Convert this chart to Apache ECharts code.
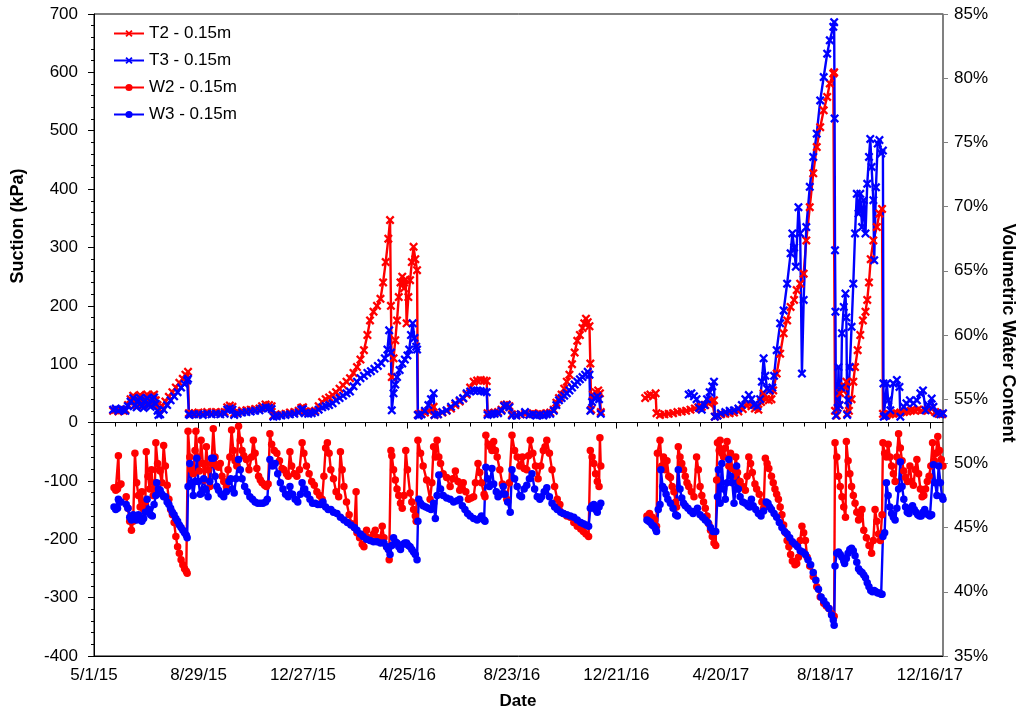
<!DOCTYPE html>
<html>
<head>
<meta charset="utf-8">
<script src="https://cdn.jsdelivr.net/npm/echarts/dist/echarts.min.js"></script>
<style>
  html, body { margin: 0; padding: 0; background: #ffffff; }
  #chart { width: 1021px; height: 715px; }
</style>
</head>
<body>
<div id="chart"></div>
<script>
// Days are counted from 5/1/15. Each series is a list of continuous segments of [day, value].
const START_YEAR = 2015, START_MONTH = 4, START_DAY = 1;
const X_MAX = 975;                       // 12/31/17
const X_MAJOR = [0, 120, 240, 360, 480, 600, 720, 840, 960];
const X_MINOR = [24, 48, 72, 96, 144, 168, 192, 216, 264, 288, 312, 336, 384, 408, 432, 456,
                 504, 528, 552, 576, 624, 648, 672, 696, 744, 768, 792, 816, 864, 888, 912, 936];

// Suction, T2 (kPa)
const t2 = [
  [[22,20],[25,22],[28,19],[31,21],[34,20]],
  [[36,22],[39,30],[42,40],[45,46],[47,36],[49,30],[51,44],[53,47],[55,34],[57,30],[59,45],[61,48],[63,35],[65,32],[67,46],[69,48],[71,38],[73,30],[75,22],[78,28],[82,36],[86,44],[90,52],[94,60],[98,68],[102,75],[105,82],[108,87],[109,16],[112,15],[116,16],[120,17],[125,16],[130,18],[135,17],[140,18],[145,17],[150,18],[153,26],[156,29],[159,27],[161,16],[165,18],[170,20],[175,21],[180,22],[185,23],[190,24],[193,28],[197,31],[201,30],[204,28],[206,12],[210,13],[215,14],[220,15],[225,17],[230,18],[235,20],[238,25],[240,26],[242,19],[246,18],[250,19],[254,20],[258,28],[262,35],[266,40],[270,43],[274,47],[278,52],[282,58],[286,64],[290,70],[294,76],[298,85],[302,95],[306,108],[310,124],[314,150],[317,175],[321,190],[325,200],[329,212],[332,240],[335,275],[338,315],[340,347],[341,200],[342,78],[344,110],[346,141],[348,175],[350,215],[352,240],[354,250],[356,230],[358,245],[359,170],[361,215],[363,244],[365,275],[367,301],[369,280],[371,261],[372,13],[373,14],[376,15],[380,17],[384,20],[388,24],[390,27],[391,13],[395,14],[400,17],[405,20],[410,24],[415,30],[420,36],[424,41],[428,48],[432,60],[436,70],[440,72],[444,73],[448,72],[451,71],[452,16],[456,15],[460,17],[464,18],[468,22],[471,30],[474,31],[477,28],[480,14],[485,13],[490,14],[495,15],[500,14],[504,16],[508,14],[512,15],[516,14],[520,16],[524,17],[528,22],[531,34],[534,42],[537,48],[540,58],[543,70],[546,82],[549,100],[552,120],[555,140],[558,150],[561,162],[563,170],[565,178],[567,172],[569,165],[570,101],[571,22],[573,48],[576,52],[579,55],[581,50],[582,18]],
  [[633,42],[636,46],[639,48],[642,45],[645,50],[646,16],[650,13],[655,14],[660,15],[665,16],[670,18],[675,19],[680,20],[685,22],[690,24],[694,26],[698,27],[702,30],[706,33],[710,36],[712,38],[713,10],[716,12],[720,14],[725,15],[730,16],[735,17],[740,19],[745,23],[749,30],[752,32],[755,28],[759,24],[763,22],[766,35],[769,50],[772,40],[775,38],[778,40],[780,55],[784,84],[788,118],[792,153],[796,175],[800,198],[804,210],[807,227],[811,238],[815,255],[818,312],[822,369],[826,427],[830,472],[834,506],[838,535],[842,558],[845,581],[849,598],[850,600],[851,20],[853,12],[856,30],[857,50],[860,55],[862,62],[864,70],[865,15],[867,20],[870,40],[872,70],[874,95],[877,124],[880,150],[883,175],[886,190],[888,210],[890,240],[892,280],[895,312],[899,335],[902,358],[905,366],[906,15],[910,12],[914,14],[918,15],[922,16],[926,17],[930,18],[934,19],[938,20],[942,21],[946,22],[950,20],[954,22],[958,21],[962,24],[966,18],[970,15],[974,14]]
];

// Suction, T3 (kPa)
const t3 = [
  [[22,22],[25,24],[28,20],[31,23],[34,22]],
  [[36,20],[39,28],[42,36],[45,42],[47,30],[49,26],[51,38],[53,42],[55,28],[57,25],[59,38],[61,42],[63,30],[65,27],[67,40],[69,43],[71,32],[73,20],[74,13],[76,14],[80,22],[84,30],[88,38],[92,45],[96,52],[100,60],[104,66],[107,72],[108,75],[109,14],[110,13],[115,14],[120,14],[125,13],[130,15],[135,14],[140,15],[145,14],[150,15],[153,22],[156,24],[159,22],[161,13],[165,15],[170,17],[175,18],[180,19],[185,20],[190,21],[193,24],[197,26],[201,25],[204,23],[206,10],[210,11],[215,12],[220,13],[225,14],[230,15],[235,17],[238,22],[240,23],[242,16],[246,15],[250,16],[254,18],[258,22],[262,26],[266,28],[270,30],[274,33],[278,38],[282,42],[286,46],[290,50],[294,53],[298,62],[302,70],[306,76],[310,80],[314,85],[318,88],[322,92],[326,97],[330,102],[334,110],[337,125],[339,158],[341,120],[342,21],[344,50],[346,65],[348,78],[351,90],[354,101],[357,108],[360,115],[362,125],[364,150],[366,170],[368,145],[370,130],[371,125],[372,13],[373,12],[376,14],[380,20],[384,30],[387,40],[390,50],[391,13],[395,14],[400,18],[405,21],[410,27],[415,33],[420,38],[424,42],[428,50],[432,53],[436,55],[440,55],[444,54],[448,53],[451,52],[452,13],[456,14],[460,15],[464,16],[468,20],[471,28],[474,30],[477,26],[480,12],[485,12],[490,14],[495,18],[500,13],[504,14],[508,12],[512,13],[516,12],[520,14],[524,15],[528,20],[531,30],[534,38],[537,42],[540,46],[543,50],[546,55],[549,60],[552,65],[555,70],[558,74],[561,78],[564,82],[567,87],[569,82],[570,20],[572,35],[575,42],[578,45],[580,40],[582,15]],
  [[683,48],[686,50],[689,45],[692,40],[695,25],[698,22],[701,30],[704,40],[707,52],[710,62],[712,70],[713,10],[716,12],[720,16],[725,18],[730,20],[735,21],[740,24],[744,30],[748,40],[752,47],[755,40],[758,30],[762,28],[765,40],[767,70],[769,110],[771,80],[773,58],[776,55],[779,60],[781,80],[784,124],[788,170],[792,192],[796,238],[800,290],[802,324],[804,300],[806,267],[809,369],[811,324],[813,84],[815,210],[818,335],[822,404],[826,455],[830,495],[834,552],[838,592],[842,632],[845,655],[849,678],[850,686],[850.5,521],[851,295],[851.5,190],[852,12],[854,25],[855,95],[856,30],[858,60],[859,153],[861,198],[863,221],[864,180],[865,13],[866,38],[868,95],[870,164],[872,238],[874,324],[876,392],[878,358],[880,392],[882,335],[884,381],[886,324],[888,409],[890,455],[891.5,486],[893,438],[895,381],[896,278],[898,403],[900,478],[902,484],[904,461],[906,466],[906.6,67],[907,10],[909,12],[910.5,67],[912,38],[914.5,21],[918,67],[922,73],[925,61],[926,10],[930,27],[933,33],[937,38],[941,33],[945,38],[949,50],[952,55],[955,21],[958,30],[962,41],[964,27],[968,16],[972,14],[975,16]]
];

// Volumetric water content, W2 (%)
const w2 = [
  [[23,48.1],[25,47.9],[27,48.0],[28,50.6],[29,48.3],[31,48.4]],
  [[37,47.4],[39,46.5],[41,45.5],[43,44.8],[45,45.5],[47,50.8],[49,48.5],[51,47.5],[53,46.6],[55,47.8],[57,46.4],[59,47.0],[60,50.9],[62,49.0],[64,48.0],[66,49.5],[68,47.5],[70,48.5],[71,51.6],[73,50.0],[75,49.5],[76,49.4],[78,48.5],[80,51.4],[82,49.8],[84,48.3],[86,47.2],[88,46.4],[90,46.0],[92,45.4],[94,44.3],[96,43.5],[98,43.0],[100,42.5],[102,42.1],[104,41.8],[106,41.6],[107,41.45],[108,52.5],[110,50.5],[112,49.5],[114,49.2],[116,51.0],[117,52.5],[119,50.5],[121,49.4],[123,51.8],[125,50.0],[127,48.7],[129,51.3],[131,49.5],[133,48.2],[135,50.0],[137,52.7],[139,50.5],[141,49.8],[143,49.7],[145,50.0],[147,49.0],[149,48.6],[152,48.2],[154,49.5],[156,50.5],[158,52.6],[160,51.0],[162,50.2],[164,49.8],[166,52.9],[168,51.8],[170,51.0],[172,50.6],[175,50.3],[178,49.5],[181,50.5],[183,51.8],[185,50.8],[187,49.6],[189,49.0],[191,48.7],[193,48.5],[196,48.3],[198,48.2],[200,48.4],[202,52.3],[204,51.5],[207,51.0],[210,50.8],[213,50.2],[216,49.6],[218,49.5],[221,49.2],[223,49.0],[225,50.9],[227,49.8],[230,49.2],[233,49.0],[236,49.5],[239,51.6],[241,50.8],[244,49.8],[247,49.2],[250,48.6],[253,48.3],[256,47.8],[259,47.5],[262,47.2],[264,49.0],[266,51.2],[268,51.6],[270,50.8],[272,49.5],[275,48.8],[278,47.8],[281,47.4],[283,50.9],[285,49.5],[287,48.2],[290,47.0],[293,46.0],[296,45.3],[299,45.0],[301,47.8],[302,44.6],[305,44.2],[308,43.7],[310,43.5],[313,44.8],[315,44.2],[318,44.0],[321,44.5],[323,44.8],[326,44.2],[328,43.9],[331,45.1],[333,44.2],[336,43.5],[339,42.5],[341,51.0],[342,50.6],[344,49.5],[346,48.7],[348,48.0],[350,47.5],[352,46.9],[354,46.5],[356,47.5],[358,51.0],[360,49.5],[363,47.7],[365,47.0],[367,46.4],[369,45.9],[370,45.5],[372,51.8],[375,50.8],[378,49.8],[382,48.7],[386,47.2],[388,48.5],[390,51.3],[392,50.5],[394,51.8],[396,50.5],[398,50.0],[401,49.2],[405,48.9],[409,48.2],[412,48.8],[415,49.4],[418,48.6],[420,47.9],[422,48.2],[424,48.5],[427,47.8],[430,47.2],[433,47.3],[436,47.4],[438,48.5],[441,50.0],[443,49.3],[445,48.5],[448,47.6],[449,47.4],[450,52.2],[453,51.5],[455,51.3],[457,51.0],[459,51.7],[461,51.0],[463,50.5],[466,49.5],[469,48.4],[472,47.6],[474,47.2],[477,48.5],[480,52.2],[483,51.0],[486,50.5],[489,49.8],[492,50.5],[494,49.6],[497,49.5],[499,50.6],[501,51.8],[504,50.8],[507,49.8],[510,48.8],[513,49.8],[516,51.0],[518,51.3],[520,51.8],[523,50.8],[526,49.5],[529,48.2],[532,47.2],[535,46.8],[539,46.1],[543,45.9],[547,45.8],[551,45.4],[555,45.1],[559,44.9],[562,44.7],[565,44.5],[568,44.3],[570,51.0],[572,50.5],[574,50.0],[576,49.2],[578,48.6],[580,48.2],[581,52.0],[582,49.8]],
  [[635,45.9],[638,46.1],[641,45.8],[644,45.6],[646,45.1],[647,50.8],[650,51.8],[652,49.8],[654,50.5],[656,49.5],[658,50.2],[660,49.0],[662,48.9],[664,48.2],[666,47.8],[668,47.0],[669,46.6],[671,51.3],[673,50.5],[675,50.0],[677,49.5],[679,49.0],[681,48.5],[683,48.2],[686,47.8],[689,47.4],[692,50.5],[694,49.5],[696,48.2],[698,47.5],[700,47.0],[702,46.5],[704,45.9],[706,45.3],[708,44.8],[710,44.3],[712,43.8],[714,43.6],[715,48.7],[716,51.6],[718,51.0],[719,51.8],[721,50.8],[723,50.5],[725,51.2],[727,51.7],[729,49.8],[731,50.8],[733,49.6],[735,49.0],[737,50.5],[739,49.3],[742,48.6],[745,48.2],[748,47.9],[750,49.0],[752,50.5],[754,50.0],[756,49.3],[759,48.4],[761,48.0],[764,47.6],[767,47.0],[769,46.5],[771,50.4],[773,50.0],[775,49.6],[778,49.0],[780,48.5],[782,48.0],[784,47.6],[786,47.2],[788,46.6],[790,46.0],[792,45.2],[794,44.6],[796,44.0],[798,43.5],[800,42.9],[802,42.4],[805,42.1],[807,42.2],[809,42.7],[811,44.0],[813,45.1],[815,44.6],[817,44.0],[819,42.7],[822,42.0],[826,41.2],[830,40.4],[834,39.6],[838,39.1],[841,38.9],[844,38.7],[847,38.3],[850,38.1],[851,51.6],[853,50.5],[855,49.0],[857,48.2],[859,47.4],[861,46.6],[863,45.8],[864,51.7],[866,50.2],[868,49.2],[870,48.2],[872,47.5],[874,46.9],[876,46.2],[878,45.6],[880,46.0],[882,46.4],[884,44.8],[887,44.2],[890,43.6],[893,43.0],[895,44.0],[897,46.4],[899,45.5],[901,44.5],[903,44.0],[905,46.0],[906,51.6],[908,50.8],[910,50.5],[912,51.5],[914,50.5],[916,49.8],[918,49.2],[920,48.6],[922,50.5],[924,52.3],[926,51.2],[928,50.2],[930,49.4],[932,48.9],[934,48.6],[937,49.8],[939,48.6],[941,48.3],[943,49.5],[945,50.3],[947,49.2],[949,48.0],[951,47.4],[953,47.5],[955,48.0],[957,48.6],[959,49.0],[961,49.8],[963,51.6],[965,50.2],[967,50.8],[969,52.1],[971,51.0],[973,50.3],[975,49.8]]
];

// Volumetric water content, W3 (%)
const w3 = [
  [[23,46.6],[25,46.4],[27,46.5],[28,47.2],[29,47.0],[31,47.0]],
  [[37,46.8],[39,46.5],[41,45.8],[43,45.6],[45,46.0],[47,45.9],[49,45.6],[51,46.0],[53,45.8],[55,45.5],[57,45.7],[59,46.2],[61,47.2],[63,46.4],[65,46.0],[67,45.9],[69,46.8],[71,47.5],[72,48.5],[74,48.0],[76,47.9],[78,47.6],[80,47.4],[82,47.4],[84,47.0],[86,46.8],[88,46.5],[90,46.2],[92,46.0],[94,45.7],[96,45.5],[98,45.2],[100,45.0],[102,44.8],[104,44.6],[106,44.4],[107,44.2],[108,48.2],[110,50.0],[112,48.5],[114,47.5],[116,48.6],[118,50.4],[120,48.6],[122,47.6],[124,47.7],[126,48.8],[128,48.0],[131,47.4],[133,48.6],[135,50.4],[137,50.4],[139,49.0],[141,48.2],[143,47.9],[146,47.6],[149,47.4],[152,47.8],[155,48.6],[157,48.8],[159,48.0],[161,47.7],[163,48.8],[166,50.3],[168,49.5],[170,48.8],[173,48.2],[176,47.8],[179,47.4],[182,47.2],[185,47.0],[188,46.9],[191,46.9],[194,46.9],[197,47.0],[199,47.2],[202,50.3],[205,49.8],[208,50.0],[211,49.2],[214,48.5],[217,48.0],[220,47.6],[223,47.4],[225,48.2],[228,47.6],[231,47.2],[234,47.0],[237,47.6],[239,48.5],[242,48.0],[245,47.6],[248,47.2],[251,46.9],[254,46.9],[257,46.8],[260,46.8],[263,47.0],[266,46.6],[269,46.4],[272,46.4],[275,46.2],[279,46.1],[283,45.8],[287,45.6],[291,45.4],[295,45.2],[299,45.0],[302,44.8],[306,44.5],[309,44.3],[313,44.1],[317,44.0],[321,43.9],[325,43.9],[329,43.8],[333,43.8],[336,43.5],[338,43.3],[340,42.9],[342,43.6],[344,44.2],[346,43.9],[348,43.8],[350,43.5],[352,43.3],[355,43.7],[357,43.8],[359,43.8],[361,43.6],[363,43.5],[365,43.3],[367,43.1],[369,42.9],[371,42.5],[372,45.5],[373,47.2],[375,46.9],[378,46.7],[381,46.6],[384,46.5],[387,46.4],[390,46.9],[392,45.7],[394,47.5],[396,49.1],[398,48.0],[401,47.5],[405,47.3],[409,47.2],[413,47.0],[417,47.1],[420,47.2],[423,46.7],[426,46.4],[429,46.1],[432,45.9],[436,45.7],[440,45.6],[443,45.7],[445,45.9],[448,45.6],[449,45.5],[450,49.7],[452,48.8],[454,48.2],[457,49.6],[459,48.4],[462,47.8],[464,47.4],[467,47.6],[470,48.2],[472,47.6],[475,47.0],[478,46.2],[480,49.5],[483,48.8],[486,48.2],[489,47.5],[491,47.4],[494,48.0],[497,48.3],[500,48.8],[503,49.2],[506,48.0],[509,47.4],[512,47.2],[514,47.4],[517,47.8],[520,48.1],[523,47.4],[526,46.9],[529,46.6],[532,46.4],[536,46.2],[539,46.1],[543,46.0],[547,45.9],[551,45.8],[555,45.6],[559,45.4],[562,45.3],[565,45.2],[568,45.1],[570,46.5],[572,46.7],[574,46.8],[576,46.4],[578,46.2],[580,46.6],[582,46.9]],
  [[635,45.6],[637,45.5],[639,45.4],[641,45.2],[643,45.1],[645,44.9],[646,44.7],[648,46.4],[650,46.8],[651,49.5],[653,48.2],[655,48.0],[657,47.6],[659,47.2],[662,46.9],[665,46.5],[668,46.0],[670,45.9],[671,49.5],[673,48.0],[675,47.3],[677,46.9],[679,46.7],[682,46.5],[685,46.3],[688,46.1],[691,46.3],[693,46.5],[696,46.0],[699,45.8],[702,45.6],[705,45.4],[708,45.0],[711,44.7],[714,44.7],[716,47.4],[717,49.5],[719,46.9],[721,50.0],[723,48.0],[725,47.2],[727,48.5],[729,50.3],[731,49.0],[733,48.5],[735,46.9],[737,48.0],[738,49.8],[740,48.0],[742,47.4],[745,47.0],[748,46.9],[751,46.7],[753,46.6],[755,47.2],[757,46.7],[760,46.4],[763,46.1],[766,45.9],[769,46.3],[772,47.0],[774,46.9],[776,46.6],[778,46.4],[781,46.1],[784,45.8],[787,45.4],[790,45.0],[793,44.7],[796,44.5],[799,44.2],[802,43.9],[805,43.7],[808,43.5],[811,43.2],[814,43.1],[817,42.9],[820,42.5],[823,42.1],[826,41.5],[829,40.9],[832,40.2],[835,39.6],[838,39.3],[841,39.0],[844,38.7],[847,38.2],[849,37.8],[850,37.4],[851,42.0],[853,43.0],[855,43.1],[857,42.9],[859,42.7],[861,42.4],[862,42.2],[864,42.6],[866,43.0],[868,43.3],[870,43.4],[872,43.2],[874,42.8],[876,42.3],[878,41.8],[880,41.6],[882,41.5],[884,41.3],[886,41.1],[888,40.7],[890,40.4],[892,40.1],[894,40.0],[896,40.1],[898,40.0],[900,39.9],[902,39.9],[904,39.8],[905,39.8],[906,44.3],[908,44.6],[910,48.5],[912,47.5],[914,46.6],[916,46.1],[918,45.8],[920,45.6],[922,46.5],[924,48.0],[926,50.1],[928,48.2],[930,47.2],[932,46.6],[934,46.2],[936,46.1],[938,46.5],[940,46.7],[942,46.4],[944,46.2],[946,46.0],[948,45.9],[950,45.9],[952,46.2],[954,46.4],[956,46.1],[958,46.0],[960,45.9],[962,46.0],[964,49.9],[966,48.5],[968,47.5],[970,49.8],[972,48.5],[974,47.4],[975,47.2]]
];

const RED = '#ff0000';
const BLUE = '#0000ff';
const FONT = '"Liberation Sans", Arial, sans-serif';
const CROSS = 'path://M0,1.8L1.8,0L5,3.2L8.2,0L10,1.8L6.8,5L10,8.2L8.2,10L5,6.8L1.8,10L0,8.2L3.2,5Z';

// Joins segments into one list, with a blank item between them so the line breaks.
function joinSegments(segs) {
  const out = [];
  segs.forEach((s, i) => {
    if (i > 0) out.push([s[0][0] - 0.5, '-']);
    s.forEach(p => out.push(p));
  });
  return out;
}

function dayLabel(v) {
  const d = new Date(START_YEAR, START_MONTH, START_DAY + Math.round(v));
  return (d.getMonth() + 1) + '/' + d.getDate() + '/' + String(d.getFullYear()).slice(2);
}

function lineSeries(name, segs, color, symbol, size, yIndex) {
  return {
    name: name,
    type: 'line',
    xAxisIndex: 0,
    yAxisIndex: yIndex,
    data: joinSegments(segs),
    symbol: symbol,
    symbolSize: size,
    showSymbol: true,
    showAllSymbol: true,
    connectNulls: false,
    lineStyle: { color: color, width: 2.4 },
    itemStyle: { color: color },
    emphasis: { disabled: true }
  };
}

const chart = echarts.init(document.getElementById('chart'), null, { renderer: 'canvas' });

chart.setOption({
  animation: false,
  backgroundColor: '#ffffff',
  textStyle: { fontFamily: FONT },
  grid: {
    left: 94, right: 78, top: 14, bottom: 59,
    show: true, borderColor: '#000000', borderWidth: 1, backgroundColor: 'transparent'
  },
  legend: {
    orient: 'vertical',
    left: 108, top: 20,
    itemWidth: 30, itemHeight: 9, itemGap: 10,
    selectedMode: false,
    textStyle: { fontSize: 17, color: '#000000', fontFamily: FONT },
    data: ['T2 - 0.15m', 'T3 - 0.15m', 'W2 - 0.15m', 'W3 - 0.15m']
  },
  xAxis: [
    {
      // date labels along the bottom edge
      type: 'value', min: 0, max: X_MAX, position: 'bottom',
      axisLine: { show: true, onZero: false, lineStyle: { color: '#000000', width: 1 } },
      axisTick: { show: false },
      axisLabel: {
        customValues: X_MAJOR, formatter: dayLabel, margin: 11,
        fontSize: 17, color: '#000000', fontFamily: FONT
      },
      splitLine: { show: false }
    },
    {
      // major ticks on the zero suction line
      type: 'value', min: 0, max: X_MAX, position: 'bottom',
      axisLine: { show: true, onZero: true, onZeroAxisIndex: 0, lineStyle: { color: '#000000', width: 1 } },
      axisTick: { show: true, customValues: X_MAJOR, length: 6, lineStyle: { color: '#000000' } },
      axisLabel: { show: false },
      splitLine: { show: false }
    },
    {
      // minor ticks on the zero suction line
      type: 'value', min: 0, max: X_MAX, position: 'bottom',
      axisLine: { show: false, onZero: true, onZeroAxisIndex: 0 },
      axisTick: { show: true, customValues: X_MINOR, length: 4, lineStyle: { color: '#000000' } },
      axisLabel: { show: false },
      splitLine: { show: false }
    }
  ],
  yAxis: [
    {
      type: 'value', min: -400, max: 700, interval: 100, position: 'left',
      axisLine: { show: true, onZero: false, lineStyle: { color: '#000000', width: 1 } },
      axisTick: { show: true, length: 6, lineStyle: { color: '#000000' } },
      minorTick: { show: true, splitNumber: 5, length: 3, lineStyle: { color: '#000000' } },
      axisLabel: { fontSize: 17, color: '#000000', margin: 16, fontFamily: FONT },
      splitLine: { show: false }
    },
    {
      type: 'value', min: 35, max: 85, interval: 5, position: 'right',
      axisLine: { show: true, onZero: false, lineStyle: { color: '#808080', width: 1.5 } },
      axisTick: { show: true, length: 5, lineStyle: { color: '#808080' } },
      axisLabel: { fontSize: 17, color: '#000000', margin: 11, fontFamily: FONT, formatter: '{value}%' },
      splitLine: { show: false }
    }
  ],
  graphic: [
    {
      type: 'text', x: 18, y: 226, rotation: Math.PI / 2, silent: true,
      style: { text: 'Suction (kPa)', font: 'bold 18px ' + FONT, fill: '#000000',
               textAlign: 'center', textVerticalAlign: 'middle', align: 'center', verticalAlign: 'middle' }
    },
    {
      type: 'text', x: 1008, y: 333, rotation: -Math.PI / 2, silent: true,
      style: { text: 'Volumetric Water Content', font: 'bold 18px ' + FONT, fill: '#000000',
               textAlign: 'center', textVerticalAlign: 'middle', align: 'center', verticalAlign: 'middle' }
    },
    {
      type: 'text', x: 518, y: 701, silent: true,
      style: { text: 'Date', font: 'bold 17px ' + FONT, fill: '#000000',
               textAlign: 'center', textVerticalAlign: 'middle', align: 'center', verticalAlign: 'middle' }
    }
  ],
  series: [
    lineSeries('T2 - 0.15m', t2, RED, CROSS, 9, 0),
    lineSeries('T3 - 0.15m', t3, BLUE, CROSS, 9, 0),
    lineSeries('W2 - 0.15m', w2, RED, 'circle', 7.5, 1),
    lineSeries('W3 - 0.15m', w3, BLUE, 'circle', 7.5, 1)
  ]
});
</script>
</body>
</html>
